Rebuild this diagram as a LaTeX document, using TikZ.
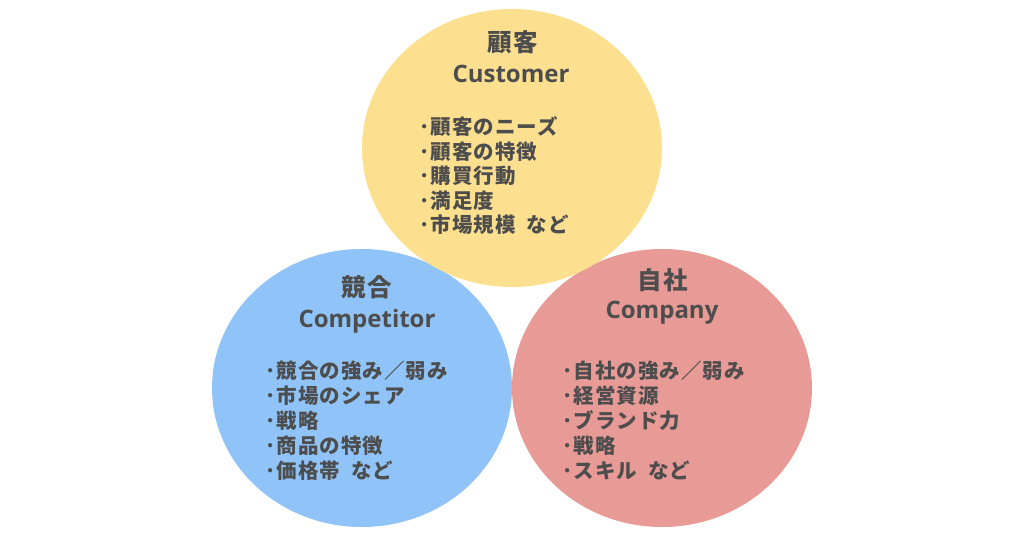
\documentclass[tikz,border=0pt]{standalone}
\usepackage{fontspec}
\setmainfont{Open Sans}
\newfontfamily\cjk{Noto Sans CJK JP}[LetterSpace=5]
\newfontfamily\cjkt{Noto Sans CJK JP}[LetterSpace=5]
\definecolor{cyel}{HTML}{FDE08F}
\definecolor{cblue}{HTML}{90C4F8}
\definecolor{cred}{HTML}{E89A96}
\definecolor{ctext}{HTML}{4D4D4D}
\usetikzlibrary{shapes.geometric}
\tikzset{
  bubble/.style={ellipse, minimum width=300pt, minimum height=278pt, inner sep=0pt},
  jtitle/.style={anchor=base, text=ctext, font=\cjkt\bfseries\fontsize{24.5}{28}\selectfont, inner sep=0pt},
  etitle/.style={anchor=base, text=ctext, font=\bfseries\fontsize{24}{28}\selectfont, inner sep=0pt},
  item/.style={anchor=base west, text=ctext, font=\cjk\bfseries\fontsize{20.5}{24}\selectfont, inner sep=0pt},
}
\begin{document}
\begin{tikzpicture}[x=1pt,y=-1pt]
\useasboundingbox (0,0) rectangle (1024,535);
\fill[white] (0,0) rectangle (1024,535);
\node[bubble, fill=cblue] (comp) at (362,388) {};
\node[bubble, fill=cred] (own) at (662,388) {};
\node[bubble, fill=cyel] (cust) at (512,148) {};
% Customer
\node[jtitle] (custj) at (513,51.5) {顧客};
\node[etitle] (custe) at (511,82) {Customer};
\foreach \t [count=\i] in {顧客のニーズ,顧客の特徴,購買行動,満足度,市場規模\hspace{11pt}など}
  \node[item] (cust\i) at (419,{134.5+24.6*(\i-1)}) {･\t};
% Competitor
\node[jtitle] (compj) at (367,296.5) {競合};
\node[etitle] (compe) at (367,327) {Competitor};
\foreach \t [count=\i] in {競合の強み／弱み,市場のシェア,戦略,商品の特徴,価格帯\hspace{11pt}など}
  \node[item] (comp\i) at (265,{378.5+25*(\i-1)}) {･\t};
% Company
\node[jtitle] (ownj) at (663,289) {自社};
\node[etitle] (owne) at (662,318) {Company};
\foreach \t [count=\i] in {自社の強み／弱み,経営資源,ブランド力,戦略,スキル\hspace{11pt}など}
  \node[item] (own\i) at (562,{378.5+25*(\i-1)}) {･\t};
\end{tikzpicture}
\end{document}
